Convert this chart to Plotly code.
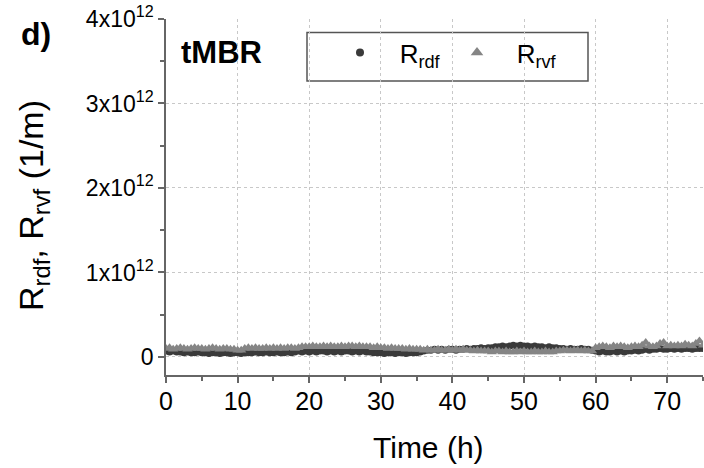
import plotly.graph_objects as go

# ---- data (values in units of 1e12 1/m) ----
time_h = [i * 0.5 for i in range(151)]

r_rdf = [
    0.07, 0.06, 0.07, 0.06, 0.06, 0.05, 0.06, 0.05, 0.05, 0.06,
    0.05, 0.05, 0.04, 0.05, 0.05, 0.04, 0.05, 0.05, 0.04, 0.05,
    0.05, 0.04, 0.05, 0.05, 0.05, 0.06, 0.05, 0.05, 0.06, 0.05,
    0.05, 0.06, 0.05, 0.05, 0.06, 0.05, 0.06, 0.07, 0.06, 0.07,
    0.06, 0.07, 0.06, 0.07, 0.07, 0.06, 0.07, 0.06, 0.07, 0.06,
    0.07, 0.07, 0.06, 0.07, 0.06, 0.07, 0.06, 0.06, 0.05, 0.05,
    0.05, 0.04, 0.05, 0.05, 0.04, 0.05, 0.05, 0.04, 0.05, 0.05,
    0.05, 0.06, 0.07, 0.08, 0.08, 0.09, 0.08, 0.09, 0.08, 0.09,
    0.09, 0.08, 0.09, 0.09, 0.10, 0.09, 0.10, 0.10, 0.11, 0.10,
    0.11, 0.11, 0.12, 0.12, 0.13, 0.12, 0.13, 0.14, 0.13, 0.14,
    0.13, 0.13, 0.12, 0.13, 0.12, 0.12, 0.11, 0.12, 0.11, 0.11,
    0.10, 0.10, 0.09, 0.10, 0.09, 0.09, 0.10, 0.09, 0.09, 0.08,
    0.07, 0.06, 0.07, 0.06, 0.06, 0.07, 0.06, 0.07, 0.06, 0.07,
    0.07, 0.08, 0.07, 0.08, 0.09, 0.08, 0.09, 0.09, 0.10, 0.09,
    0.09, 0.10, 0.09, 0.10, 0.09, 0.10, 0.10, 0.09, 0.10, 0.10,
    0.10,
]

r_rvf = [
    0.10, 0.11, 0.09, 0.10, 0.11, 0.10, 0.09, 0.10, 0.11, 0.10,
    0.10, 0.09, 0.10, 0.11, 0.10, 0.09, 0.10, 0.10, 0.09, 0.09,
    0.08, 0.08, 0.10, 0.11, 0.10, 0.11, 0.10, 0.10, 0.11, 0.10,
    0.11, 0.10, 0.11, 0.10, 0.11, 0.11, 0.10, 0.11, 0.12, 0.12,
    0.12, 0.13, 0.12, 0.12, 0.13, 0.12, 0.13, 0.12, 0.12, 0.13,
    0.12, 0.13, 0.13, 0.12, 0.13, 0.12, 0.12, 0.12, 0.11, 0.12,
    0.11, 0.11, 0.10, 0.11, 0.10, 0.10, 0.10, 0.09, 0.10, 0.09,
    0.09, 0.09, 0.08, 0.09, 0.08, 0.08, 0.09, 0.08, 0.08, 0.09,
    0.08, 0.09, 0.08, 0.09, 0.08, 0.08, 0.07, 0.08, 0.07, 0.07,
    0.07, 0.06, 0.07, 0.07, 0.06, 0.07, 0.06, 0.06, 0.07, 0.06,
    0.07, 0.06, 0.06, 0.07, 0.06, 0.06, 0.07, 0.06, 0.06, 0.07,
    0.07, 0.08, 0.08, 0.07, 0.08, 0.08, 0.07, 0.08, 0.07, 0.07,
    0.11, 0.12, 0.13, 0.12, 0.11, 0.13, 0.12, 0.13, 0.12, 0.11,
    0.12, 0.13, 0.12, 0.14, 0.17, 0.13, 0.12, 0.13, 0.16, 0.17,
    0.13, 0.14, 0.13, 0.14, 0.13, 0.15, 0.14, 0.13, 0.16, 0.19,
    0.14,
]

y_tickvals = [0, 1, 2, 3, 4]
y_ticktext = ["0", "1x10<sup>12</sup>", "2x10<sup>12</sup>", "3x10<sup>12</sup>", "4x10<sup>12</sup>"]
x_tickvals = [0, 10, 20, 30, 40, 50, 60, 70]

# ---- layout geometry ----
W, H = 704, 468
L, R, T, B = 166, 1, 19, 93
PW, PH = W - L - R, H - T - B


def px_x(px):
    return (px - L) / PW


def px_y(py):
    return 1 - (py - T) / PH


FONT = "Liberation Sans, Arial, sans-serif"
AXC = "#666666"
GRID = "#c8c8c8"
C_RDF = "#3a3a3a"
C_RVF = "#858585"

fig = go.Figure()
fig.add_trace(go.Scatter(
    x=time_h, y=r_rdf, mode="markers", showlegend=False,
    marker=dict(symbol="circle", size=7, color=C_RDF, line=dict(width=0)),
))
fig.add_trace(go.Scatter(
    x=time_h, y=r_rvf, mode="markers", showlegend=False,
    marker=dict(symbol="triangle-up", size=9, color=C_RVF, line=dict(width=0)),
))
# legend-only entries (larger symbols, as in the reference legend)
fig.add_trace(go.Scatter(
    x=[None], y=[None], mode="markers", name="\u00a0\u00a0\u2009R<sub>rdf</sub>",
    marker=dict(symbol="circle", size=8, color=C_RDF, line=dict(width=0)),
))
fig.add_trace(go.Scatter(
    x=[None], y=[None], mode="markers", name="\u00a0\u00a0\u2009R<sub>rvf</sub>",
    marker=dict(symbol="triangle-up", size=11, color=C_RVF, line=dict(width=0)),
))

fig.update_layout(
    width=W, height=H,
    margin=dict(l=L, r=R, t=T, b=B, pad=0),
    paper_bgcolor="white", plot_bgcolor="white",
    font=dict(family=FONT, color="black"),
    showlegend=True,
    legend=dict(
        orientation="h", x=px_x(340), y=px_y(29), xanchor="left", yanchor="top",
        bgcolor="rgba(0,0,0,0)", borderwidth=0,
        font=dict(size=26, family=FONT), entrywidth=72, entrywidthmode="pixels",
        itemsizing="trace",
    ),
    xaxis=dict(
        range=[0, 75], tickvals=x_tickvals, ticks="outside", ticklen=6, tickwidth=1.5,
        tickcolor=AXC, showline=True, linecolor=AXC, linewidth=1.5,
        showgrid=True, gridcolor=GRID, griddash="dot", gridwidth=1,
        zeroline=False, tickfont=dict(size=25), ticklabelstandoff=-3, automargin=False,
        minor=dict(dtick=5, tick0=0, ticks="outside", ticklen=4, tickcolor=AXC, tickwidth=1.5, showgrid=False),
    ),
    yaxis=dict(
        range=[-0.2135, 4], tickvals=y_tickvals, ticktext=y_ticktext, ticks="outside",
        ticklen=6, tickwidth=1.5, tickcolor=AXC, showline=True, linecolor=AXC, linewidth=1.5,
        showgrid=True, gridcolor=GRID, griddash="dot", gridwidth=1,
        zeroline=False, tickfont=dict(size=23), automargin=False,
        minor=dict(dtick=0.5, tick0=0, ticks="outside", ticklen=4, tickcolor=AXC, tickwidth=1.5, showgrid=False),
    ),
    xaxis2=dict(
        overlaying="x", side="top", range=[0, 75], tickvals=x_tickvals, ticks="inside",
        ticklen=5, tickwidth=1.5, tickcolor=AXC, showline=True, linecolor=AXC, linewidth=1.5,
        showticklabels=False, showgrid=False, zeroline=False, automargin=False,
        minor=dict(dtick=5, tick0=0, ticks="inside", ticklen=3, tickcolor=AXC, tickwidth=1.5),
    ),
    yaxis2=dict(
        overlaying="y", side="right", range=[-0.2135, 4], tickvals=y_tickvals, ticks="inside",
        ticklen=5, tickwidth=1.5, tickcolor=AXC, showline=True, linecolor=AXC, linewidth=1.5,
        showticklabels=False, showgrid=False, zeroline=False, automargin=False,
        minor=dict(dtick=0.5, tick0=0, ticks="inside", ticklen=3, tickcolor=AXC, tickwidth=1.5),
    ),
    shapes=[dict(
        type="rect", xref="paper", yref="paper",
        x0=px_x(307), x1=px_x(588), y0=px_y(81), y1=px_y(32.5),
        line=dict(color="#555555", width=1.5), fillcolor="white", layer="below",
    )],
    annotations=[
        dict(text="<b>d)</b>", xref="paper", yref="paper", x=px_x(19), y=px_y(34),
             xanchor="left", yanchor="middle", showarrow=False, font=dict(size=32, family=FONT)),
        dict(text="<b>tMBR</b>", xref="paper", yref="paper", x=px_x(179), y=px_y(52),
             xanchor="left", yanchor="middle", showarrow=False, font=dict(size=31, family=FONT)),
        dict(text="R<sub>rdf</sub>, R<sub>rvf</sub> (1/m)", xref="paper", yref="paper",
             x=px_x(33), y=px_y(206), xanchor="center", yanchor="middle", textangle=-90,
             showarrow=False, font=dict(size=34, family=FONT)),
        dict(text="Time (h)", xref="paper", yref="paper",
             x=px_x(428), y=px_y(448), xanchor="center", yanchor="middle",
             showarrow=False, font=dict(size=30, family=FONT)),
    ],
)

fig.write_html("out.html")
